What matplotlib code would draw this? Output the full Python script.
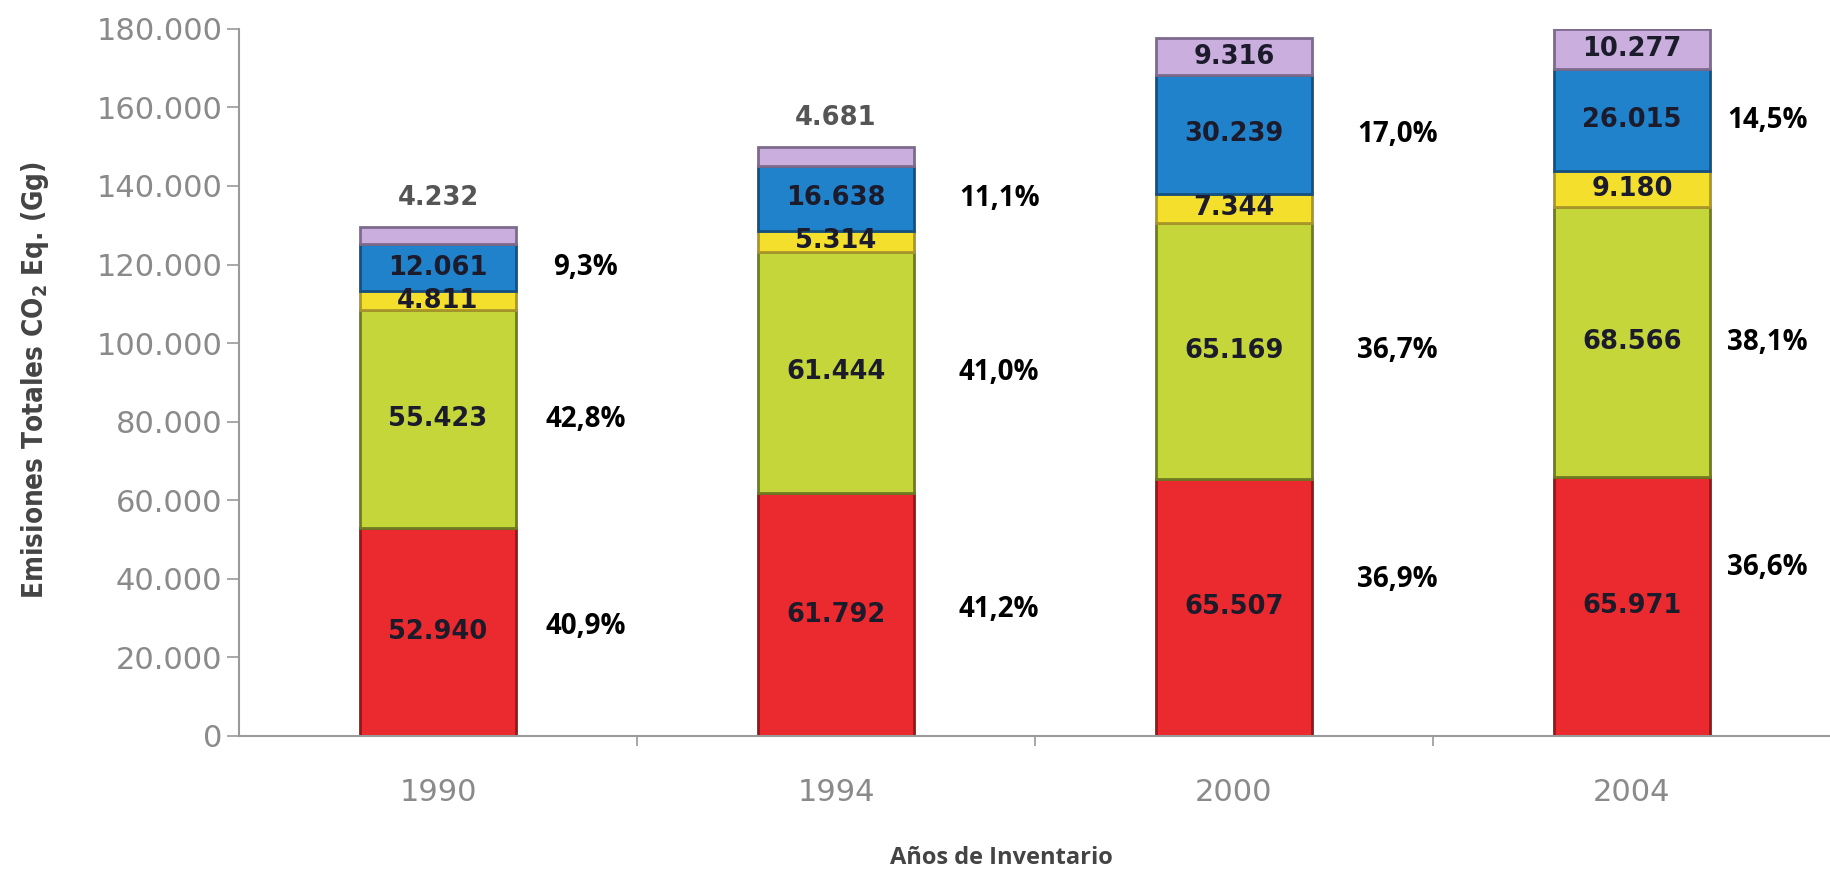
import numpy as np
import matplotlib
matplotlib.use("Agg")
import matplotlib.pyplot as plt

# Emisiones por inventario (Gg CO2 eq.)
anios = ["1990", "1994", "2000", "2004"]
rojo = [52940, 61792, 65507, 65971]
verde = [55423, 61444, 65169, 68566]
amarillo = [4811, 5314, 7344, 9180]
azul = [12061, 16638, 30239, 26015]
lila = [4232, 4681, 9316, 10277]

pct_rojo = ["40,9%", "41,2%", "36,9%", "36,6%"]
pct_verde = ["42,8%", "41,0%", "36,7%", "38,1%"]
pct_azul = ["9,3%", "11,1%", "17,0%", "14,5%"]

# ajustes de posicion de las etiquetas de porcentaje
pct_dx = [0.37, 0.41, 0.41, 0.34]
rojo_dy = [1300, 1200, 7000, 10000]

series = [rojo, verde, amarillo, azul, lila]
colores = ["#ea2a2e", "#c4d63a", "#f4e02c", "#2182cc", "#c9aede"]
bordes = ["#8e1a1c", "#6f7a22", "#a8962a", "#15507e", "#7d6a8c"]

plt.rcParams["font.family"] = "DejaVu Sans"
plt.rcParams["mathtext.default"] = "regular"

fig = plt.figure(figsize=(18.31, 8.74), dpi=100)
ax = fig.add_axes([239 / 1831, 0.158, 1 - 239 / 1831, 0.967 - 0.158])

x = np.arange(len(anios))
ancho = 0.39
base = np.zeros(len(anios))
for vals, c, b in zip(series, colores, bordes):
    ax.bar(x, vals, ancho, bottom=base, color=c, edgecolor=b, linewidth=2)
    base = base + np.array(vals)

def fmt(v):
    return f"{v:,}".replace(",", ".")

txt = dict(ha="center", va="center", fontsize=18.5, fontweight="bold", color="#1b1b2b")
base = np.zeros(len(anios))
for k, vals in enumerate(series):
    for i, v in enumerate(vals):
        mid = base[i] + v / 2
        if k == 4 and v < 5000:
            ax.text(x[i], base[i] + v + 7500, fmt(v), ha="center", va="center",
                    fontsize=18.5, fontweight="bold", color="#555555")
        else:
            ax.text(x[i], mid, fmt(v), **txt)
    base = base + np.array(vals)

# porcentajes
pct = dict(ha="center", va="center", fontsize=20, fontweight="bold",
           color="black", family=["Open Sans", "DejaVu Sans"])
for i in range(len(anios)):
    r0 = rojo[i]
    g0 = r0 + verde[i]
    a0 = g0 + amarillo[i]
    ax.text(x[i] + pct_dx[i], r0 / 2 + rojo_dy[i], pct_rojo[i], **pct)
    ax.text(x[i] + pct_dx[i], r0 + verde[i] / 2, pct_verde[i], **pct)
    ax.text(x[i] + pct_dx[i], a0 + azul[i] / 2, pct_azul[i], **pct)

ax.set_xlim(-0.5, 3.5)
ax.set_ylim(0, 180000)
ax.set_yticks(np.arange(0, 180001, 20000))
ax.set_yticklabels([fmt(int(v)) for v in np.arange(0, 180001, 20000)])
ax.set_xticks(x)
ax.set_xticklabels(anios)
ax.set_xticks([0.5, 1.5, 2.5], minor=True)

for s in ["top", "right"]:
    ax.spines[s].set_visible(False)
for s in ["left", "bottom"]:
    ax.spines[s].set_color("#9a9a9a")
    ax.spines[s].set_linewidth(1.5)

ax.tick_params(axis="y", colors="#9a9a9a", labelcolor="#8a8a8a", labelsize=22,
               length=9, width=1.2, pad=3)
ax.tick_params(axis="x", which="major", length=0, labelcolor="#8a8a8a",
               labelsize=22, pad=30)
ax.tick_params(axis="x", which="minor", length=7, width=1.2, colors="#9a9a9a")

fig.text(35 / 1831, 1 - 380 / 874, r"Emisiones Totales CO$_2$ Eq. (Gg)",
         rotation=90, ha="center", va="center", fontsize=20, fontweight="bold",
         fontstretch="condensed", color="#444444")
fig.text(1001 / 1831, 1 - 858 / 874, "Años de Inventario", ha="center",
         va="center", fontsize=17, fontweight="bold", color="#444444",
         family=["Open Sans", "DejaVu Sans"])

fig.savefig("out.png", dpi=100)
